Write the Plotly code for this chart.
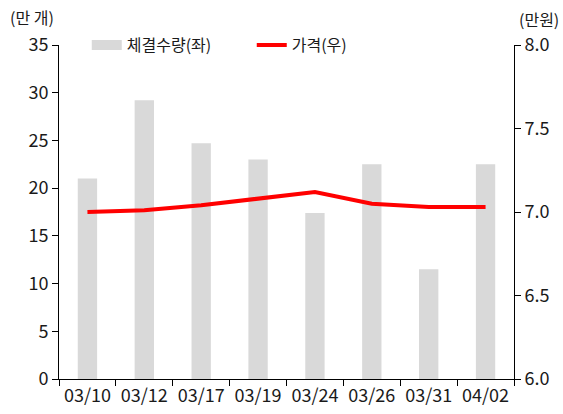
import plotly.graph_objects as go

categories = ["03/10", "03/12", "03/17", "03/19", "03/24", "03/26", "03/31", "04/02"]
volume = [21.0, 29.2, 24.7, 23.0, 17.4, 22.5, 11.5, 22.5]
price = [7.00, 7.01, 7.04, 7.08, 7.12, 7.05, 7.03, 7.03]

FONT = "Noto Sans CJK KR"
TXT = "#1a1a1a"

fig = go.Figure()
fig.add_trace(go.Bar(
    x=categories, y=volume, name="체결수량(좌)",
    marker=dict(color="#d9d9d9", line=dict(width=0)),
    width=0.34, yaxis="y", showlegend=False,
))
# legend proxy for the bar series (wide grey swatch)
fig.add_trace(go.Scatter(
    x=[None], y=[None], name="체결수량(좌)", mode="lines",
    line=dict(color="#d9d9d9", width=10), yaxis="y",
))
fig.add_trace(go.Scatter(
    x=categories, y=price, name="가격(우)", mode="lines",
    line=dict(color="#ff0000", width=4), yaxis="y2",
))

fig.update_layout(
    width=563, height=414,
    margin=dict(l=59, r=49, t=45, b=35, autoexpand=False),
    paper_bgcolor="white", plot_bgcolor="white",
    font=dict(family=FONT, size=16, color=TXT),
    showlegend=True,
    legend=dict(orientation="h", x=0.061, y=1.0, xanchor="left", yanchor="middle",
                bgcolor="rgba(0,0,0,0)", font=dict(size=16, family=FONT, color=TXT),
                tracegroupgap=0, entrywidth=120, entrywidthmode="pixels"),
    xaxis=dict(
        type="category", range=[-0.5, 7.5], showgrid=False, automargin=False,
        showline=True, linecolor="black", linewidth=1,
        ticks="outside", tickson="boundaries", ticklen=6, tickcolor="black",
        tickfont=dict(size=18, family=FONT, color=TXT),
    ),
    yaxis=dict(
        range=[0, 35], dtick=5, showgrid=False, zeroline=False, automargin=False,
        showline=True, linecolor="black", linewidth=1,
        ticks="outside", ticklen=6, tickcolor="black",
        tickfont=dict(size=18, family=FONT, color=TXT),
    ),
    yaxis2=dict(
        range=[6.0, 8.0], dtick=0.5, tickformat=".1f", overlaying="y", side="right",
        showgrid=False, zeroline=False, automargin=False,
        showline=True, linecolor="black", linewidth=1,
        ticks="outside", ticklen=6, tickcolor="black",
        tickfont=dict(size=18, family=FONT, color=TXT),
    ),
    annotations=[
        dict(text="(만 개)", xref="paper", yref="paper", x=-0.112, y=1.085,
             xanchor="left", yanchor="middle", showarrow=False,
             font=dict(size=16, family=FONT, color=TXT)),
        dict(text="(만원)", xref="paper", yref="paper", x=1.103, y=1.078,
             xanchor="right", yanchor="middle", showarrow=False,
             font=dict(size=16, family=FONT, color=TXT)),
    ],
)

fig.write_html("out.html", config={"displayModeBar": False},
               post_script="document.body.style.margin='0';document.body.style.overflow='hidden';")
